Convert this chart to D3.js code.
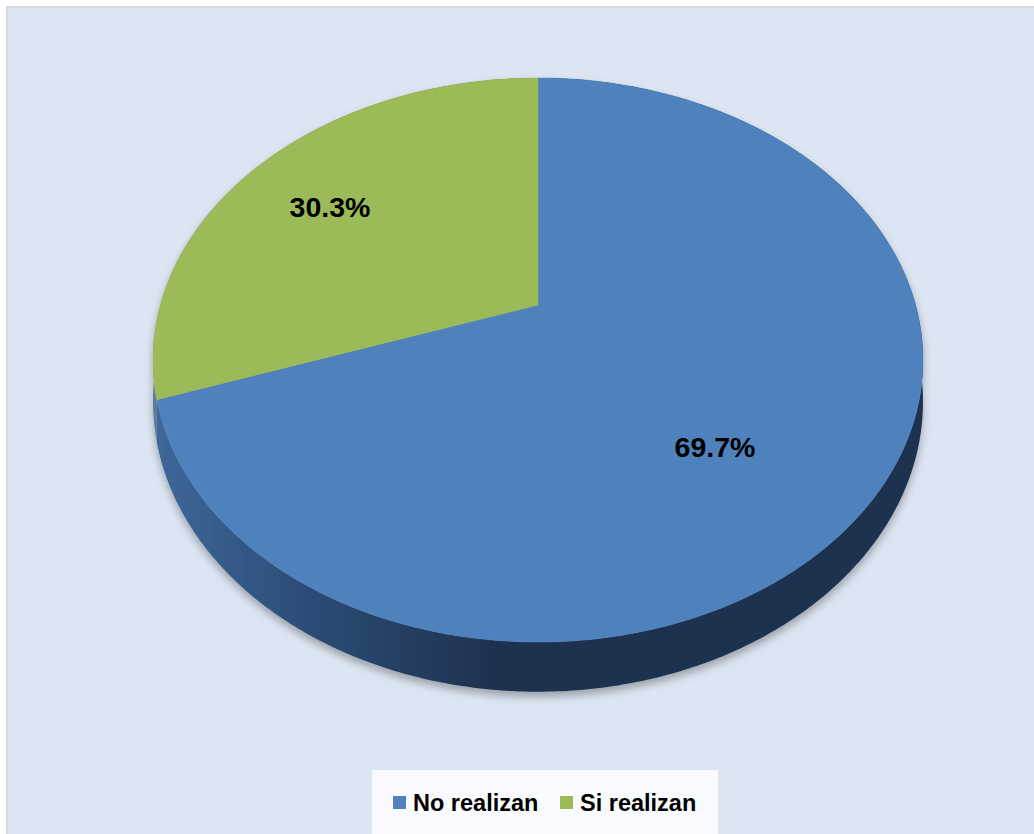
<!DOCTYPE html>
<html>
<head>
<meta charset="utf-8">
<script src="https://cdn.jsdelivr.net/npm/d3@7"></script>
<style>
  html, body { margin: 0; padding: 0; background: #ffffff; }
  svg { display: block; }
</style>
</head>
<body>
<svg id="chart" width="1034" height="834"></svg>
<script>
const categories = ["No realizan", "Si realizan"];
const values = [69.7, 30.3];
const labels = ["69.7%", "30.3%"];
const colors = ["#4f81bd", "#9bbb59"];

const svg = d3.select("#chart");
const defs = svg.append("defs");

// frame
svg.append("rect")
  .attr("x", 7).attr("y", 7).attr("width", 1060).attr("height", 860)
  .attr("fill", "#dce6f2").attr("stroke", "#d9d9d9").attr("stroke-width", 2);

// side gradient
const g1 = defs.append("linearGradient").attr("id", "sideBlue")
  .attr("gradientUnits", "userSpaceOnUse").attr("x1", 160).attr("x2", 490).attr("y1", 0).attr("y2", 0);
g1.append("stop").attr("offset", 0).attr("stop-color", "#3c6798");
g1.append("stop").attr("offset", 0.45).attr("stop-color", "#2c4c76");
g1.append("stop").attr("offset", 1).attr("stop-color", "#1f3250");

const g2 = defs.append("linearGradient").attr("id", "sideGreen")
  .attr("gradientUnits", "userSpaceOnUse").attr("x1", 150).attr("x2", 490).attr("y1", 0).attr("y2", 0);
g2.append("stop").attr("offset", 0).attr("stop-color", "#5d7a9e");
g2.append("stop").attr("offset", 1).attr("stop-color", "#4d5e29");

const filt = defs.append("filter").attr("id", "shadow")
  .attr("x", "-10%").attr("y", "-10%").attr("width", "120%").attr("height", "130%");
filt.append("feDropShadow").attr("dx", 0).attr("dy", 5).attr("stdDeviation", 4)
  .attr("flood-color", "#000").attr("flood-opacity", 0.3);

// perspective projection of the pie disc
const cx = 538, cy0 = 305, A = 377.6, B = 271.3, k = 0.195, D = 40;
function proj(theta, depth) {
  const X = Math.sin(theta), Z = -Math.cos(theta);
  const w = 1 / (1 - k * Z);
  return [cx + A * X * w, cy0 + B * Z * w + depth * w];
}

const pie = d3.pie().sort(null).value(d => d.v);
const arcs = pie(categories.map((c, i) => ({ c, v: values[i], i })));

const line = d3.line();
function arcPts(a0, a1, depth) {
  const n = Math.max(8, Math.ceil((a1 - a0) / 0.01));
  const pts = [];
  for (let j = 0; j <= n; j++) pts.push(proj(a0 + (a1 - a0) * j / n, depth));
  return pts;
}

const pieG = svg.append("g").attr("filter", "url(#shadow)");

// sides
arcs.forEach(a => {
  const top = arcPts(a.startAngle, a.endAngle, 0);
  const bot = arcPts(a.startAngle, a.endAngle, D).reverse();
  pieG.append("path")
    .attr("d", line(top.concat(bot)) + "Z")
    .attr("fill", a.data.i === 0 ? "url(#sideBlue)" : "url(#sideGreen)");
});

// tops
arcs.forEach(a => {
  const pts = [[cx, cy0]].concat(arcPts(a.startAngle, a.endAngle, 0));
  pieG.append("path")
    .attr("d", line(pts) + "Z")
    .attr("fill", colors[a.data.i])
    .attr("stroke", colors[a.data.i]).attr("stroke-width", 0.5);
});

// labels
const labelPos = [[715, 457], [330, 217]];
arcs.forEach(a => {
  svg.append("text")
    .attr("x", labelPos[a.data.i][0]).attr("y", labelPos[a.data.i][1])
    .attr("text-anchor", "middle")
    .attr("font-family", "Liberation Sans, Arial, sans-serif")
    .attr("font-weight", "bold").attr("font-size", 28.5)
    .attr("fill", "#000")
    .text(labels[a.data.i]);
});

// legend
svg.append("rect").attr("x", 372).attr("y", 770).attr("width", 346).attr("height", 80)
  .attr("fill", "#f8fafd");
const legX = [393, 560];
categories.forEach((c, i) => {
  svg.append("rect").attr("x", legX[i]).attr("y", 796).attr("width", 13).attr("height", 13)
    .attr("fill", colors[i]);
  svg.append("text").attr("x", legX[i] + 20).attr("y", 811)
    .attr("font-family", "Liberation Sans, Arial, sans-serif")
    .attr("font-weight", "bold").attr("font-size", 23.5)
    .attr("fill", "#000").text(c);
});
</script>
</body>
</html>
